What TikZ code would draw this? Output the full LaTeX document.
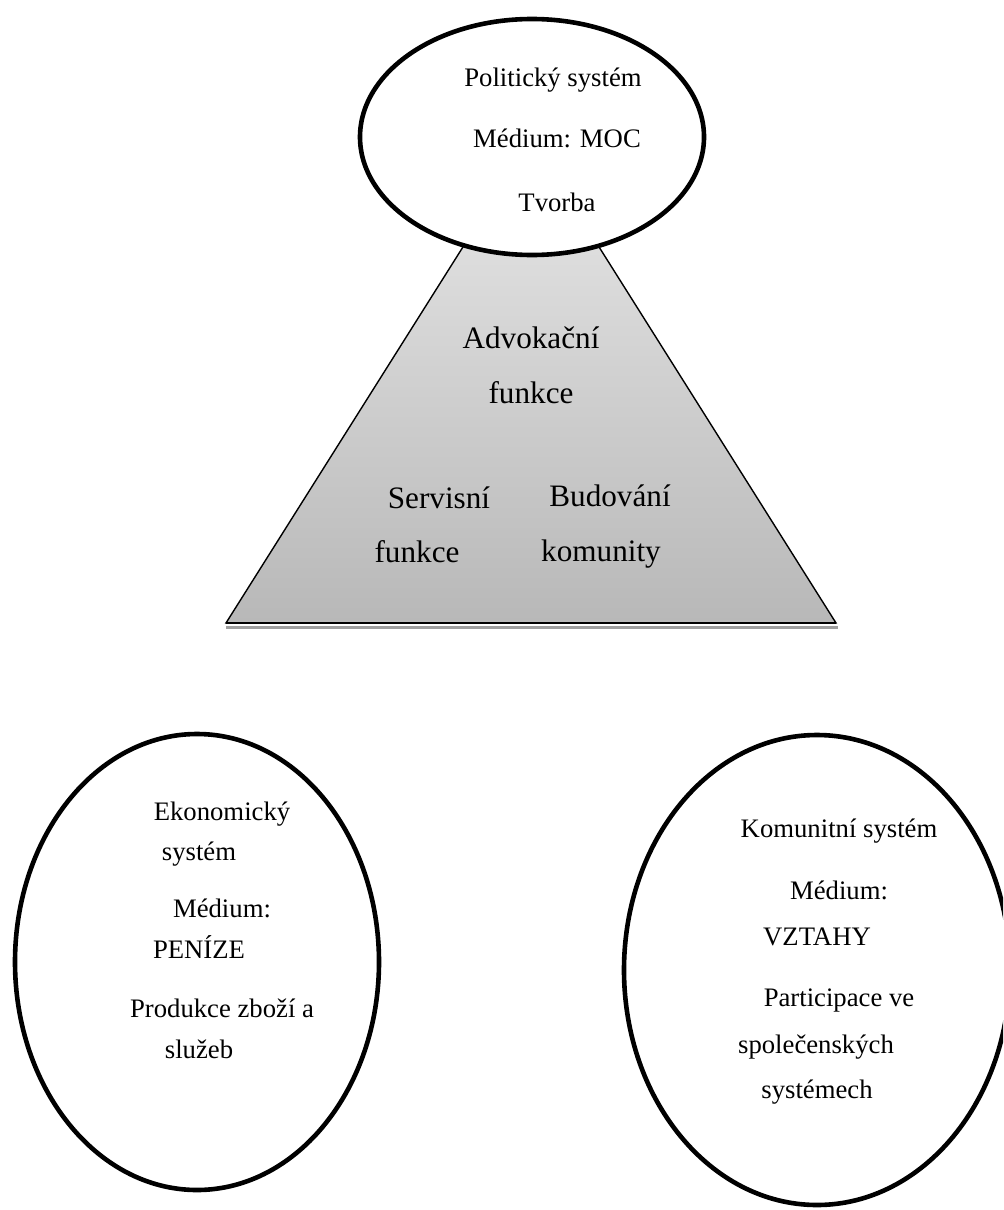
\documentclass[tikz,border=0pt]{standalone}
\usepackage{fontspec}
\setmainfont{Liberation Serif}
\usetikzlibrary{shapes.geometric}
\begin{document}
\begin{tikzpicture}[x=0.5pt,y=-0.5pt,
  sysell/.style={draw=black,line width=2.3pt,ellipse,inner sep=0pt,fill=white},
  txt/.style={anchor=base,inner sep=0pt,font=\fontsize{13.35pt}{16pt}\selectfont},
  big/.style={anchor=base,inner sep=0pt,font=\fontsize{15.6pt}{18pt}\selectfont},
  tri/.style={draw=black,line width=0.7pt,top color={rgb,255:red,232;green,232;blue,232},bottom color={rgb,255:red,184;green,184;blue,184}}]
\clip (0,0) rectangle (1003,1210);
\fill[white] (0,0) rectangle (1003,1210);
% pyramid
\coordinate (apex) at (531,139);
\coordinate (bl) at (226,623);
\coordinate (br) at (836,623);
\shade[tri] (apex) -- (bl) -- (br) -- cycle;
\coordinate (sl) at (226,627.5);
\coordinate (sr) at (838,627.5);
\draw[gray!75,line width=1.6pt] (sl) -- (sr);
\draw[black,line width=0.9pt] (bl) -- (br);
% top ellipse
\node[sysell,minimum width=172pt,minimum height=118pt] (pol) at (532,137) {};
\node[txt] (pol1) at (553,86) {Politický systém};
\node[txt] (pol2) at (557,147) {Médium: MOC};
\node[txt] (pol3) at (557,211) {Tvorba};
% pyramid texts
\node[big] (adv1) at (531,348) {Advokační};
\node[big] (adv2) at (531,403) {funkce};
\node[big] (ser1) at (439,508) {Servisní};
\node[big] (ser2) at (417,562) {funkce};
\node[big] (bud1) at (610,506) {Budování};
\node[big] (bud2) at (601,561) {komunity};
% left ellipse
\node[sysell,minimum width=182pt,minimum height=228pt] (eko) at (197,962) {};
\node[txt] (eko1) at (222,820) {Ekonomický};
\node[txt] (eko2) at (199,860) {systém};
\node[txt] (eko3) at (222,917) {Médium:};
\node[txt] (eko4) at (199,958) {PENÍZE};
\node[txt] (eko5) at (222,1017) {Produkce zboží a};
\node[txt] (eko6) at (199,1058) {služeb};
% right ellipse
\node[sysell,minimum width=193pt,minimum height=235pt] (kom) at (817,970) {};
\node[txt] (kom1) at (839,837) {Komunitní systém};
\node[txt] (kom2) at (839,899) {Médium:};
\node[txt] (kom3) at (817,945) {VZTAHY};
\node[txt] (kom4) at (839,1006) {Participace ve};
\node[txt] (kom5) at (816,1053) {společenských};
\node[txt] (kom6) at (817,1098) {systémech};
\end{tikzpicture}
\end{document}
